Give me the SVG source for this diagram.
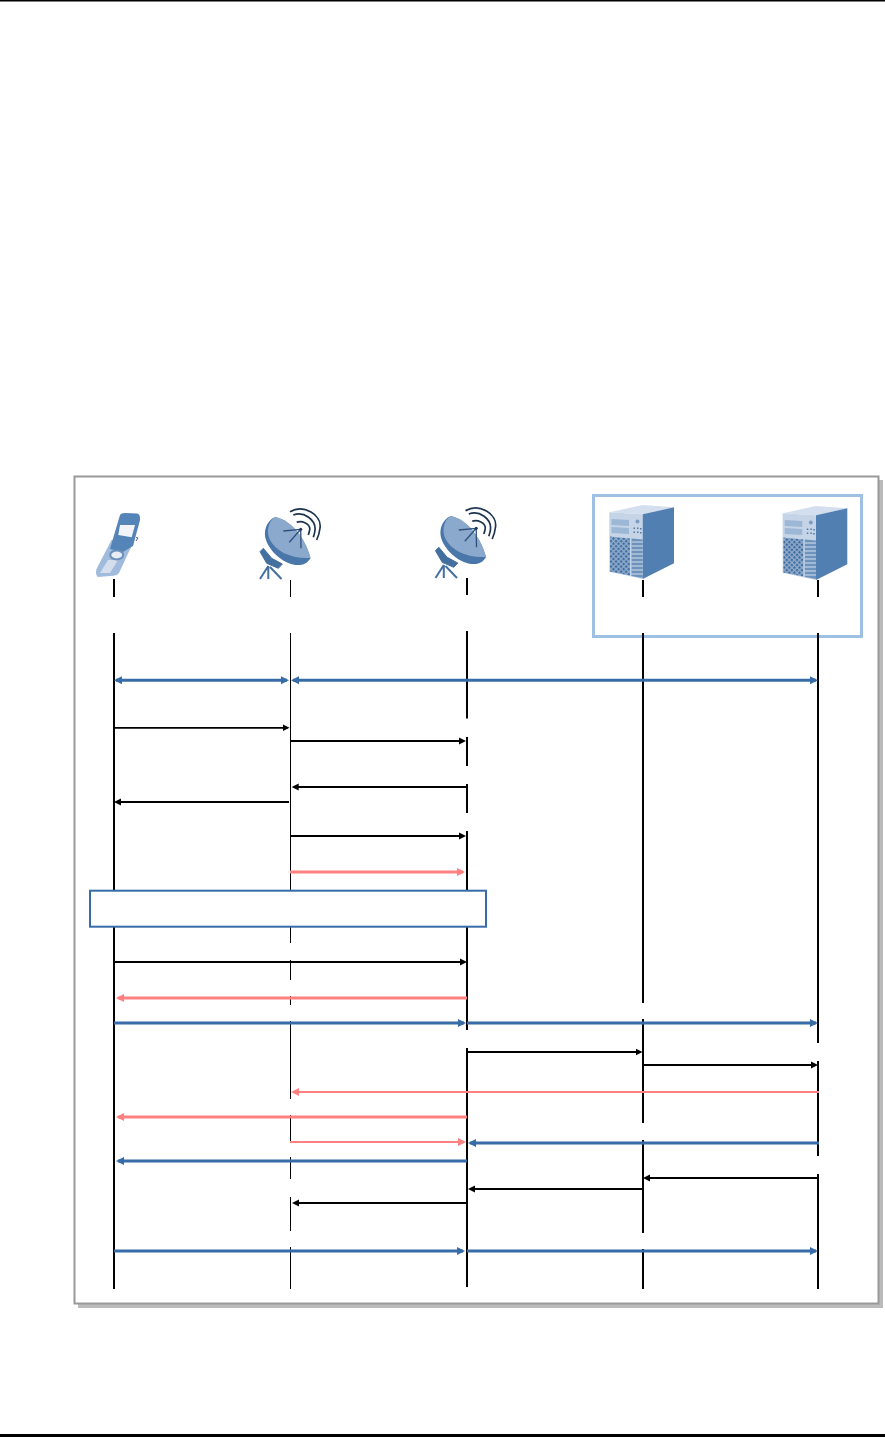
<svg xmlns="http://www.w3.org/2000/svg" width="885" height="1437" viewBox="0 0 885 1437">
<style>
.ll{stroke:#000;stroke-width:2;fill:none}
.lt{stroke:#000;stroke-width:1;fill:none}
.k{stroke:#000;stroke-width:1.8;fill:none;marker-end:url(#ak)}
.b{stroke:#376ca8;stroke-width:3;fill:none;marker-end:url(#ab)}
.bb{marker-start:url(#ab)}
.p{stroke:#ff8080;stroke-width:3;fill:none;marker-end:url(#ap)}
.pt{stroke:#ff8080;stroke-width:1.8;fill:none;marker-end:url(#ap)}
</style>
<defs>
<marker id="ak" markerUnits="userSpaceOnUse" markerWidth="8" markerHeight="8" refX="5" refY="4" orient="auto-start-reverse"><path d="M0 0.5L7 4L0 7.5Z" fill="#000"/></marker>
<marker id="ab" markerUnits="userSpaceOnUse" markerWidth="9" markerHeight="9" refX="6" refY="4.5" orient="auto-start-reverse"><path d="M0 0.5L8 4.5L0 8.5Z" fill="#376ca8"/></marker>
<marker id="ap" markerUnits="userSpaceOnUse" markerWidth="9" markerHeight="9" refX="6" refY="4.5" orient="auto-start-reverse"><path d="M0 0.5L8 4.5L0 8.5Z" fill="#ff8080"/></marker>
<pattern id="mesh" width="3.600" height="3.600" patternUnits="userSpaceOnUse" patternTransform="rotate(45)"><rect width="3.600" height="3.600" fill="#8eabcd"/><rect width="2.200" height="2.200" fill="#3f6a9c"/></pattern>
<g id="dish">
<path d="M275 517C266 521 263 532 266 540C270 552 285 566 300 565C305 565 309 561 310.500 558C306 540 292 520 275 517Z" fill="#4a77a9"/>
<path d="M275 517C268 522 266 532 270 540C276 551 290 559 310.500 558C306 540 292 520 275 517Z" fill="#8ba9cd"/>
<path d="M300.700 529.300L283.300 531M300.700 529.300L289.300 542.300M300.700 529.300L301 548.300" stroke="#2f507c" stroke-width="1.300" fill="none"/>
<circle cx="300.700" cy="529.300" r="1.500" fill="#1f3a5c"/>
<path d="M296.700 522.300C302 520 310 524 309.800 529C309.700 531 309 533 308.300 535M293.300 515C304 511 316 520 315 530C314.800 533 314 535 313.300 537.300M290 511.700C304 504 322 515 320 528C319.500 533 318 537 316.700 540" stroke="#1d3350" stroke-width="1.700" fill="none"/>
<path d="M263.300 548.300L260 551.700L266.700 563.300L278.300 568.300L282.300 564L271.700 558.300Z" fill="#44709f" stroke="#44709f" stroke-linejoin="round"/>
<path d="M268.300 566L260 579M268.300 566L268.300 579M270 567L281.500 579" stroke="#44709f" stroke-width="2" fill="none"/>
</g>
<g id="server">
<path d="M609.300 512.300L642.700 514.300L674 507.300L642.700 505Z" fill="#d3dfee"/>
<path d="M609.300 512.300L642.700 514.300L642.700 579L609.300 571.700Z" fill="#c5d4e6"/>
<path d="M642.700 514.300L674 507.300L674 563.300L642.700 579Z" fill="#527fb2"/>
<path d="M611.500 519L629 520V526L611.500 525ZM611.500 527L629 528V534L611.500 533Z" fill="#9db7d6"/>
<path d="M610 536.500L630 538.500V575.500L610 571.500Z" fill="url(#mesh)"/>
<path d="M631.500 538.500L642.700 539.500V578L631.500 576Z" fill="#6d93bd"/>
<path d="M631.500 542H642.700M631.500 546H642.700M631.500 550H642.700M631.500 554H642.700M631.500 558H642.700M631.500 562H642.700M631.500 566H642.700M631.500 570H642.700M631.500 574H642.700" stroke="#d5e0ed" stroke-width="1" fill="none"/>
<circle cx="637.500" cy="521.500" r="2" fill="#7d9cc1"/>
<path d="M633.500 527.500h1.500v1.500h-1.500zM637 527.500h1.500v1.500H637zM640 528h1.500v1.500H640zM633.500 531.500h1.500v1.500h-1.500zM637 531.500h1.500v1.500H637zM640 532h1.500v1.500H640z" fill="#4e78a8"/>
</g>
</defs>
<rect width="885" height="1437" fill="#fff"/>
<g id="page-rules">
<rect x="0" y="0" width="885" height="1.500" fill="#000"/>
<rect x="0" y="1434" width="885" height="3" fill="#000"/>
</g>
<g id="frame">
<rect x="78" y="480" width="805" height="828" fill="#bbb"/>
<rect x="74.500" y="476.500" width="804" height="827" fill="#fff" stroke="#999" stroke-width="2"/>
</g>
<g id="server-group"><rect x="593.500" y="495.500" width="268" height="141" fill="none" stroke="#9dc0e3" stroke-width="3"/></g>
<g id="node-phone">
<path d="M111.500 540L132.500 544L119 573Q117 576 110 576L98 577Q95 575 96.500 569Z" fill="#a0bbdc"/>
<path d="M120 515Q121 513 125 513L137 513.500Q140.500 514 140 520L133 546L123 552L110 549L112 542Z" fill="#5484b8"/>
<path d="M120 525L135 525L131.700 537.300L118.300 535Z" fill="#f2f4f9"/>
<path d="M108 560L118 560L110 573L100 573Z" fill="#d4deec"/>
<ellipse cx="116.700" cy="555" rx="6.500" ry="4.500" fill="#e8edf5" stroke="#6a8fba" stroke-width="2"/>
<path d="M136 537.500L138 538L136 541" stroke="#4a5f7c" stroke-width="1" fill="none"/>
<path class="ll" d="M114 579V597M114 633V1289"/>
</g>
<g id="node-bts1">
<use href="#dish"/>
<path class="lt" d="M290.500 580V597M290.500 633V943M290.500 960V980M290.500 996V1005M290.500 1021V1099M290.500 1115V1142M290.500 1157V1179M290.500 1197V1231M290.500 1247V1289"/>
</g>
<g id="node-bts2">
<use href="#dish" transform="translate(175.500 -1)"/>
<path class="ll" d="M467 578V595M467 631V718.500M467 737V766M467 784V813M467 831V1030M467 1048V1287"/>
</g>
<g id="node-server1">
<use href="#server"/>
<path class="ll" d="M643 580V597M643 633V1003M643 1019V1123M643 1140V1233M643 1249V1289"/>
</g>
<g id="node-server2">
<use href="#server" transform="translate(173.300 1)"/>
<path class="ll" d="M818 580V597M818 633V1043M818 1061V1156M818 1174V1289"/>
</g>
<g id="connectors">
<line class="b bb" x1="116" y1="680.300" x2="287" y2="680.300"/>
<line class="b bb" x1="293" y1="680.300" x2="816" y2="680.300"/>
<line class="k" x1="114" y1="727.800" x2="287.500" y2="727.800"/>
<line class="k" x1="291" y1="741" x2="464" y2="741"/>
<line class="k" x1="467" y1="787" x2="293.700" y2="787"/>
<line class="k" x1="289" y1="802" x2="116" y2="802"/>
<line class="k" x1="291" y1="836" x2="464" y2="836"/>
<line class="p" x1="290" y1="872" x2="463" y2="872"/>
<line class="k" x1="114" y1="962" x2="465" y2="962"/>
<line class="p" x1="467" y1="998" x2="118" y2="998"/>
<line class="b" x1="114" y1="1023" x2="464" y2="1023"/>
<line class="b" x1="467" y1="1023" x2="816" y2="1023"/>
<line class="k" x1="467" y1="1052" x2="640.500" y2="1052"/>
<line class="k" x1="643" y1="1065" x2="816" y2="1065"/>
<line class="pt" x1="819" y1="1092" x2="293" y2="1092"/>
<line class="p" x1="467" y1="1117" x2="118" y2="1117"/>
<line class="pt" x1="290" y1="1142" x2="464" y2="1142"/>
<line class="b" x1="819" y1="1143" x2="470" y2="1143"/>
<line class="b" x1="467" y1="1161" x2="118" y2="1161"/>
<line class="k" x1="818" y1="1178" x2="645" y2="1178"/>
<line class="k" x1="642.500" y1="1189" x2="470" y2="1189"/>
<line class="k" x1="467" y1="1203" x2="294" y2="1203"/>
<line class="b" x1="114" y1="1251" x2="463" y2="1251"/>
<line class="b" x1="467" y1="1251" x2="816" y2="1251"/>
</g>
<g id="note"><rect x="90" y="890.700" width="396" height="36" fill="#fff" stroke="#376ca8" stroke-width="2"/></g>
</svg>
